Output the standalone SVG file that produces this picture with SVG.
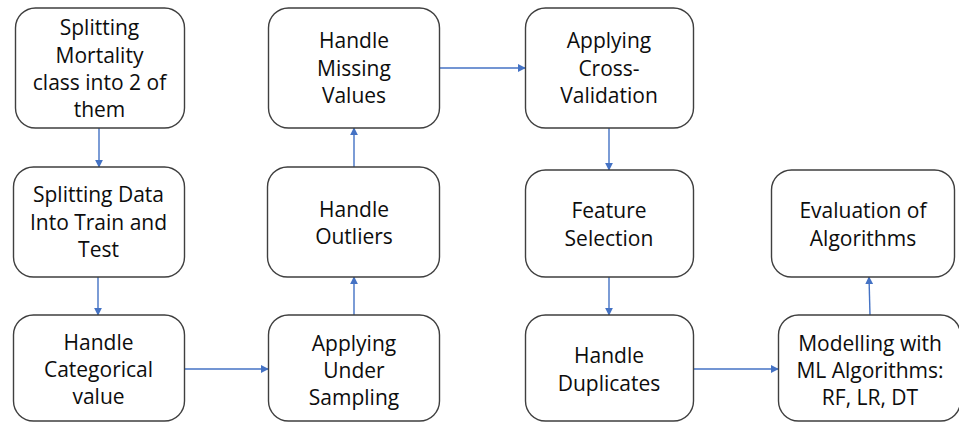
<svg xmlns="http://www.w3.org/2000/svg" width="959" height="422" viewBox="0 0 959 422">
  <style>
    .box { fill: #ffffff; stroke: #3f3f3f; stroke-width: 1.4; }
    .lbl { font-family: "Open Sans", "Liberation Sans", sans-serif; font-size: 21px; fill: #0d0d0d; text-anchor: middle; }
    .edge { fill: none; stroke: #4472c4; stroke-width: 1.4; marker-end: url(#arrow); }
  </style>
  <defs>
    <marker id="arrow" viewBox="0 0 10 10" refX="9" refY="5" markerWidth="8" markerHeight="8" markerUnits="userSpaceOnUse" orient="auto">
      <path d="M0,0 L10,5 L0,10 z" fill="#4472c4"/>
    </marker>
  </defs>
  <rect width="959" height="422" fill="#ffffff"/>

  <g id="connectors">
    <line class="edge" x1="99" y1="128" x2="99" y2="167"/>
    <line class="edge" x1="98" y1="277" x2="98" y2="315"/>
    <line class="edge" x1="184" y1="369" x2="268" y2="369"/>
    <line class="edge" x1="354" y1="315" x2="354" y2="277"/>
    <line class="edge" x1="354" y1="167" x2="354" y2="128"/>
    <line class="edge" x1="440" y1="68" x2="525" y2="68"/>
    <line class="edge" x1="609" y1="128" x2="609" y2="170"/>
    <line class="edge" x1="609" y1="277" x2="609" y2="315"/>
    <line class="edge" x1="694" y1="369" x2="778" y2="369"/>
    <line class="edge" x1="870" y1="315" x2="869" y2="277"/>
  </g>

  <g id="split-mortality">
    <rect class="box" x="15.5" y="8" width="169" height="120" rx="20"/>
    <text class="lbl" x="99.5" y="35">Splitting</text>
    <text class="lbl" x="99.5" y="62.5">Mortality</text>
    <text class="lbl" x="99.5" y="90">class into 2 of</text>
    <text class="lbl" x="99.5" y="117">them</text>
  </g>

  <g id="split-data">
    <rect class="box" x="13.5" y="167" width="171" height="110" rx="20"/>
    <text class="lbl" x="98.5" y="202">Splitting Data</text>
    <text class="lbl" x="98.5" y="229.5">Into Train and</text>
    <text class="lbl" x="98.5" y="257">Test</text>
  </g>

  <g id="categorical">
    <rect class="box" x="13.5" y="315" width="171" height="106" rx="20"/>
    <text class="lbl" x="98.5" y="350">Handle</text>
    <text class="lbl" x="98.5" y="377">Categorical</text>
    <text class="lbl" x="98.5" y="404">value</text>
  </g>

  <g id="under-sampling">
    <rect class="box" x="268.5" y="315" width="171" height="106" rx="20"/>
    <text class="lbl" x="354" y="351">Applying</text>
    <text class="lbl" x="354" y="378">Under</text>
    <text class="lbl" x="354" y="405">Sampling</text>
  </g>

  <g id="outliers">
    <rect class="box" x="267.5" y="167" width="172" height="110" rx="20"/>
    <text class="lbl" x="354" y="217">Handle</text>
    <text class="lbl" x="354" y="244">Outliers</text>
  </g>

  <g id="missing">
    <rect class="box" x="268.5" y="8" width="171" height="120" rx="20"/>
    <text class="lbl" x="354" y="48">Handle</text>
    <text class="lbl" x="354" y="76">Missing</text>
    <text class="lbl" x="354" y="103">Values</text>
  </g>

  <g id="cross-validation">
    <rect class="box" x="525.5" y="8" width="168" height="120" rx="20"/>
    <text class="lbl" x="609" y="48">Applying</text>
    <text class="lbl" x="609" y="76">Cross-</text>
    <text class="lbl" x="609" y="103">Validation</text>
  </g>

  <g id="feature-selection">
    <rect class="box" x="525.5" y="170" width="168" height="107" rx="20"/>
    <text class="lbl" x="609" y="218">Feature</text>
    <text class="lbl" x="609" y="246">Selection</text>
  </g>

  <g id="duplicates">
    <rect class="box" x="525.5" y="315" width="168" height="106" rx="20"/>
    <text class="lbl" x="609" y="363">Handle</text>
    <text class="lbl" x="609" y="391">Duplicates</text>
  </g>

  <g id="modelling">
    <rect class="box" x="778.5" y="315" width="182" height="106" rx="20"/>
    <text class="lbl" x="870" y="351">Modelling with</text>
    <text class="lbl" x="870" y="378">ML Algorithms:</text>
    <text class="lbl" x="870" y="405">RF, LR, DT</text>
  </g>

  <g id="evaluation">
    <rect class="box" x="771.5" y="170" width="183" height="107" rx="20"/>
    <text class="lbl" x="863" y="218">Evaluation of</text>
    <text class="lbl" x="863" y="246">Algorithms</text>
  </g>
</svg>
